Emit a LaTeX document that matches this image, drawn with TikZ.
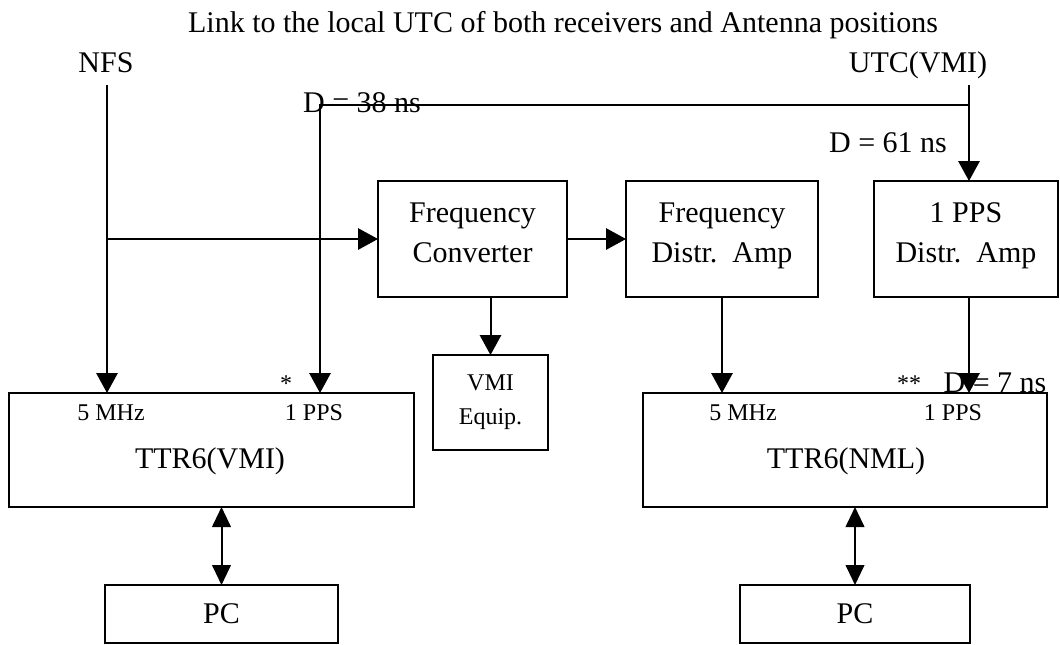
\documentclass[tikz,border=0pt]{standalone}
\usepackage{fontspec}
\setmainfont{Liberation Serif}
\usetikzlibrary{arrows.meta,positioning}
\newcommand{\bigtxt}{\fontsize{22.5}{30}\selectfont}
\newcommand{\smalltxt}{\fontsize{18}{25.5}\selectfont}
\tikzset{
  block/.style = {draw, line width=1.5pt, rectangle, inner sep=0pt,
                  outer sep=0pt, align=center, font=\bigtxt},
  twoline/.style = {block, text depth=9pt},
  lbl/.style   = {inner sep=0pt, anchor=base, font=\bigtxt},
  port/.style  = {inner sep=0pt, anchor=base, font=\smalltxt},
  sig/.style   = {-{Triangle[length=15pt,width=16pt]}, line width=1.5pt},
  bisig/.style = {{Triangle[length=15pt,width=14pt]}-{Triangle[length=15pt,width=14pt]},
                  line width=1.5pt},
}
\begin{document}
\begin{tikzpicture}[x=0.75pt,y=-0.75pt]
\useasboundingbox (0,0) rectangle (1060,644);
% sources and delay labels
\node[lbl] (title) at (563,32) {Link to the local UTC of both receivers and Antenna positions};
\node[lbl] (nfs) at (106,72) {NFS};
\node[lbl] (utc) at (918,72) {UTC(VMI)};
\node[lbl] (d38) at (362,112) {D = 38 ns};
\node[lbl] (d61) at (888,152) {D = 61 ns};
\node[lbl] (d7) at (995,392) {D = 7 ns};
% distribution chain
\node[twoline,minimum width=141.75pt,minimum height=87pt] (conv) at (472.5,239) {Frequency\\Converter};
\node[twoline,minimum width=144pt,minimum height=87pt] (fdist) at (722,239) {Frequency\\Distr.~~Amp};
\node[twoline,minimum width=138pt,minimum height=87pt] (pdist) at (966,239) {1 PPS\\Distr.~~Amp};
\node[block,font=\smalltxt,minimum width=86.25pt,minimum height=71.25pt] (vmieq) at (490.5,402.5) {VMI\\Equip.};
% receivers
\node[block,minimum width=303.75pt,minimum height=85.5pt] (ttrv) at (211.5,450) {};
\node[port] (ttrv5) at (111,420) {5 MHz};
\node[port] (ttrv1) at (314,420) {1 PPS};
\node[lbl] (ttrvname) at (210,468) {TTR6(VMI)};
\node[port] (star1) at (286,391) {*};
\node[block,minimum width=303pt,minimum height=85.5pt] (ttrn) at (845,450) {};
\node[port] (ttrn5) at (743,420) {5 MHz};
\node[port] (ttrn1) at (953,420) {1 PPS};
\node[lbl] (ttrnname) at (846,468) {TTR6(NML)};
\node[port] (star2) at (909,391) {**};
% computers
\node[block,minimum width=174.75pt,minimum height=43.5pt] (pcl) at (221.5,614) {PC};
\node[block,minimum width=172.5pt,minimum height=43.5pt] (pcr) at (855,614) {PC};

\coordinate (nfsout) at (107,85);
\coordinate (utcout) at (969,85);
\coordinate (tap) at (969,105);
\coordinate (bend) at (320,105);

\draw[sig] (nfsout) -- (nfsout |- ttrv.north);
\draw[sig] (nfsout |- conv.west) -- (conv.west);
\draw[sig] (utcout) -- (utcout |- pdist.north);
\draw[sig] (tap) -- (bend) -- (bend |- ttrv.north);
\draw[sig] (conv.east) -- (fdist.west);
\draw[sig] (vmieq.north |- conv.south) -- (vmieq.north);
\draw[sig] (fdist.south) -- (fdist.south |- ttrn.north);
\draw[sig] (utcout |- pdist.south) -- (utcout |- ttrn.north);
\draw[bisig] (pcl.north |- ttrv.south) -- (pcl.north);
\draw[bisig] (pcr.north |- ttrn.south) -- (pcr.north);
\end{tikzpicture}
\end{document}
